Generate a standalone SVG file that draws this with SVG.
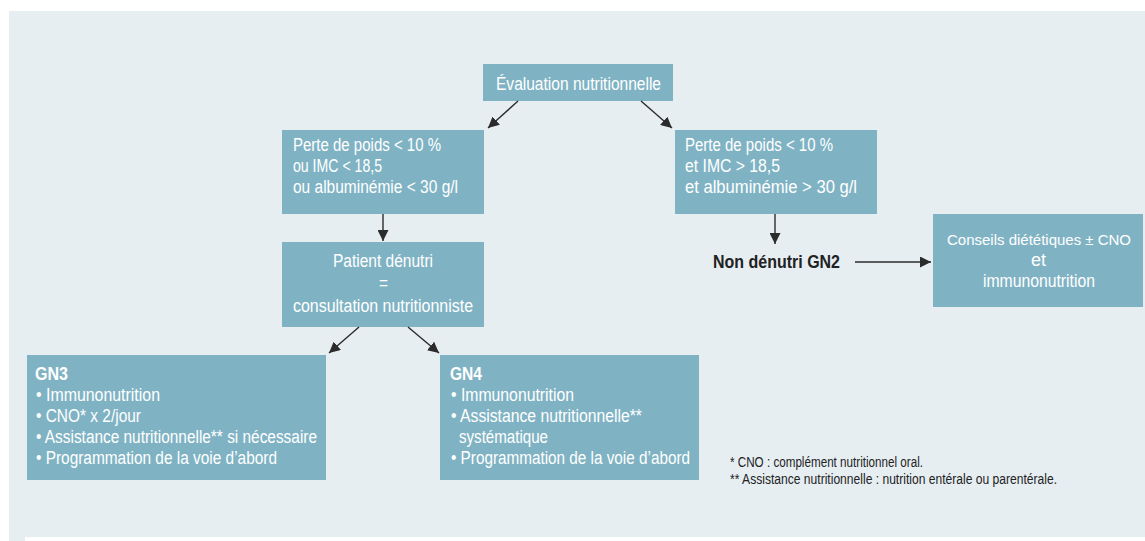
<svg xmlns="http://www.w3.org/2000/svg" width="1145" height="541" viewBox="0 0 1145 541">
<defs>
<marker id="ah" viewBox="0 0 10 10" refX="10" refY="5" markerWidth="11" markerHeight="11" markerUnits="userSpaceOnUse" orient="auto">
<path d="M0,0 L10,5 L0,10 Z" fill="#2b2b2b"/>
</marker>
<style>
.box{fill:#7fb3c4;}
.t{font-family:"Liberation Sans",Arial,sans-serif;font-size:18px;fill:#ffffff;}
.b{font-weight:bold;}
.dark{font-family:"Liberation Sans",Arial,sans-serif;fill:#222222;}
.ln{stroke:#2b2b2b;stroke-width:1.4;fill:none;marker-end:url(#ah);}
</style>
</defs>
<rect x="0" y="0" width="1145" height="541" fill="#ffffff"/>
<rect x="9" y="11" width="1136" height="530" fill="#e6eef2"/>
<rect x="25" y="537" width="1120" height="4" fill="#ffffff"/>

<g id="eval">
<rect class="box" x="483" y="64" width="190" height="37"/>
<text class="t" x="496" y="90" textLength="165" lengthAdjust="spacingAndGlyphs">Évaluation nutritionnelle</text>
</g>

<g id="cond-left">
<rect class="box" x="282" y="130" width="202" height="84"/>
<text class="t" x="293" y="151" textLength="148" lengthAdjust="spacingAndGlyphs">Perte de poids &lt; 10 %</text>
<text class="t" x="293" y="172" textLength="89" lengthAdjust="spacingAndGlyphs">ou IMC &lt; 18,5</text>
<text class="t" x="293" y="193" textLength="165" lengthAdjust="spacingAndGlyphs">ou albuminémie &lt; 30 g/l</text>
</g>

<g id="cond-right">
<rect class="box" x="675" y="130" width="202" height="84"/>
<text class="t" x="685" y="151" textLength="148" lengthAdjust="spacingAndGlyphs">Perte de poids &lt; 10 %</text>
<text class="t" x="685" y="172" textLength="95" lengthAdjust="spacingAndGlyphs">et IMC &gt; 18,5</text>
<text class="t" x="685" y="193" textLength="172" lengthAdjust="spacingAndGlyphs">et albuminémie &gt; 30 g/l</text>
</g>

<g id="patient">
<rect class="box" x="282" y="242" width="202" height="85"/>
<text class="t" x="333" y="267" textLength="100" lengthAdjust="spacingAndGlyphs">Patient dénutri</text>
<text class="t" x="379" y="289" textLength="9" lengthAdjust="spacingAndGlyphs">=</text>
<text class="t" x="293" y="312" textLength="180" lengthAdjust="spacingAndGlyphs">consultation nutritionniste</text>
</g>

<g id="non-denutri">
<text class="dark b" x="713" y="268" font-size="18" textLength="127" lengthAdjust="spacingAndGlyphs">Non dénutri GN2</text>
</g>

<g id="conseils">
<rect class="box" x="933" y="214" width="210" height="93"/>
<text class="t" x="947" y="245" style="font-size:15.5px" textLength="184" lengthAdjust="spacingAndGlyphs">Conseils diététiques ± CNO</text>
<text class="t" x="1031" y="266" textLength="15" lengthAdjust="spacingAndGlyphs">et</text>
<text class="t" x="983" y="287" textLength="112" lengthAdjust="spacingAndGlyphs">immunonutrition</text>
</g>

<g id="gn3">
<rect class="box" x="27" y="355" width="299" height="125"/>
<text class="t b" x="35" y="380" textLength="33" lengthAdjust="spacingAndGlyphs">GN3</text>
<text class="t" x="36" y="401" textLength="124" lengthAdjust="spacingAndGlyphs">• Immunonutrition</text>
<text class="t" x="36" y="422" textLength="105" lengthAdjust="spacingAndGlyphs">• CNO* x 2/jour</text>
<text class="t" x="36" y="443" textLength="281" lengthAdjust="spacingAndGlyphs">• Assistance nutritionnelle** si nécessaire</text>
<text class="t" x="36" y="464" textLength="241" lengthAdjust="spacingAndGlyphs">• Programmation de la voie d’abord</text>
</g>

<g id="gn4">
<rect class="box" x="440" y="355" width="259" height="125"/>
<text class="t b" x="450" y="380" textLength="32" lengthAdjust="spacingAndGlyphs">GN4</text>
<text class="t" x="451" y="401" textLength="123" lengthAdjust="spacingAndGlyphs">• Immunonutrition</text>
<text class="t" x="451" y="422" textLength="191" lengthAdjust="spacingAndGlyphs">• Assistance nutritionnelle**</text>
<text class="t" x="459" y="443" textLength="89" lengthAdjust="spacingAndGlyphs">systématique</text>
<text class="t" x="451" y="464" textLength="239" lengthAdjust="spacingAndGlyphs">• Programmation de la voie d’abord</text>
</g>

<g id="footnotes">
<text class="dark" x="730" y="467" font-size="14" textLength="193" lengthAdjust="spacingAndGlyphs">* CNO : complément nutritionnel oral.</text>
<text class="dark" x="730" y="484" font-size="14" textLength="327" lengthAdjust="spacingAndGlyphs">** Assistance nutritionnelle : nutrition entérale ou parentérale.</text>
</g>

<g id="connectors">
<line class="ln" x1="518" y1="101" x2="488" y2="128"/>
<line class="ln" x1="641" y1="101" x2="672" y2="128"/>
<line class="ln" x1="383" y1="214" x2="383" y2="241"/>
<line class="ln" x1="775" y1="214" x2="775" y2="244"/>
<line class="ln" x1="855" y1="262" x2="931" y2="262"/>
<line class="ln" x1="359" y1="327" x2="329" y2="353"/>
<line class="ln" x1="408" y1="327" x2="439" y2="353"/>
</g>
</svg>
